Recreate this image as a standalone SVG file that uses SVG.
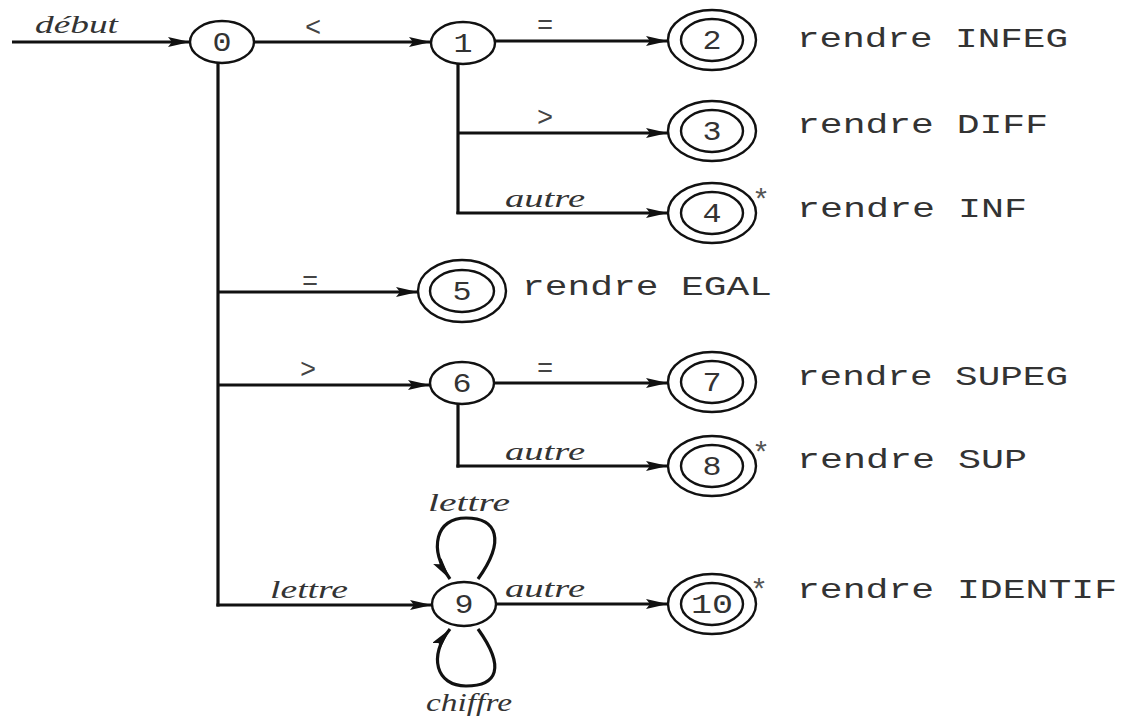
<svg xmlns="http://www.w3.org/2000/svg" width="1123" height="717" viewBox="0 0 1123 717">
<defs>
<marker id="arr" markerUnits="userSpaceOnUse" markerWidth="24" markerHeight="12" refX="22" refY="5" orient="auto">
<path d="M0,0 L22,5 L0,10 L4,5 z" fill="#111"/>
</marker>
<style>
.e{fill:none;stroke:#111;stroke-width:3.2}
.a{fill:none;stroke:#111;stroke-width:3.2;marker-end:url(#arr)}
.n{fill:#fff;stroke:#111;stroke-width:2.4}
.d{font-family:"Liberation Mono","Courier New",monospace;font-size:27px;fill:#333;text-anchor:middle}
.r{font-family:"Liberation Mono","Courier New",monospace;font-size:27px;fill:#333}
.i{font-family:"Liberation Serif","Times New Roman",serif;font-style:italic;font-size:25px;fill:#333}
.s{font-family:"Liberation Mono",monospace;font-size:30px;fill:#555}
.m{font-family:"Liberation Mono",monospace;font-size:27px;fill:#444;text-anchor:middle}
</style>
</defs>
<g id="connectors">
<path class="a" d="M12,42 H190"/>
<path class="a" d="M254,42 H431"/>
<path class="a" d="M495,41 H668"/>
<path class="e" d="M458,64 V214"/>
<path class="a" d="M458,133 H668"/>
<path class="a" d="M456.4,213 H668"/>
<path class="e" d="M218,63 V606.6"/>
<path class="a" d="M218,292 H418"/>
<path class="a" d="M218,385 H430"/>
<path class="a" d="M216.4,605 H432"/>
<path class="a" d="M494,383 H668"/>
<path class="e" d="M458,404 V467.6"/>
<path class="a" d="M456.4,466 H668"/>
<path class="a" d="M496,604 H668"/>
<path class="a" d="M478,579 C506,540 497,518 466,518 C436,518 428,548 450,579"/>
<path class="a" d="M478,629 C506,668 497,686 466,686 C436,686 428,656 450,629"/>
<text class="i" x="35" y="33" textLength="83" lengthAdjust="spacingAndGlyphs">début</text>
<text class="m" x="313" y="36">&lt;</text>
<text class="m" x="545" y="34">=</text>
<text class="m" x="545" y="126">&gt;</text>
<text class="i" x="505" y="207" textLength="80" lengthAdjust="spacingAndGlyphs">autre</text>
<text class="m" x="310" y="290">=</text>
<text class="m" x="308" y="378">&gt;</text>
<text class="m" x="545" y="377">=</text>
<text class="i" x="505" y="460" textLength="80" lengthAdjust="spacingAndGlyphs">autre</text>
<text class="i" x="270" y="598" textLength="78" lengthAdjust="spacingAndGlyphs">lettre</text>
<text class="i" x="505" y="597" textLength="80" lengthAdjust="spacingAndGlyphs">autre</text>
<text class="i" x="428" y="511" textLength="82" lengthAdjust="spacingAndGlyphs">lettre</text>
<text class="i" x="426" y="711" textLength="86" lengthAdjust="spacingAndGlyphs">chiffre</text>
</g>
<g id="n0"><ellipse class="n" cx="222" cy="42" rx="32" ry="21"/><text class="d" x="222" y="51" textLength="19" lengthAdjust="spacingAndGlyphs">0</text></g>
<g id="n1"><ellipse class="n" cx="463" cy="43" rx="32" ry="21"/><text class="d" x="463" y="52" textLength="19" lengthAdjust="spacingAndGlyphs">1</text></g>
<g id="n2"><ellipse class="n" cx="712" cy="40" rx="44" ry="30"/><ellipse class="n" cx="712" cy="40" rx="31" ry="21"/><text class="d" x="712" y="49" textLength="19" lengthAdjust="spacingAndGlyphs">2</text>
<text class="r" x="797" y="47" textLength="271" lengthAdjust="spacingAndGlyphs">rendre INFEG</text></g>
<g id="n3"><ellipse class="n" cx="712" cy="131" rx="44" ry="30"/><ellipse class="n" cx="712" cy="131" rx="31" ry="21"/><text class="d" x="712" y="140" textLength="19" lengthAdjust="spacingAndGlyphs">3</text>
<text class="r" x="797" y="133" textLength="251" lengthAdjust="spacingAndGlyphs">rendre DIFF</text></g>
<g id="n4"><ellipse class="n" cx="712" cy="213" rx="44" ry="30"/><ellipse class="n" cx="712" cy="213" rx="31" ry="21"/><text class="d" x="712" y="222" textLength="19" lengthAdjust="spacingAndGlyphs">4</text>
<text class="s" x="752" y="210">*</text>
<text class="r" x="797" y="217" textLength="230" lengthAdjust="spacingAndGlyphs">rendre INF</text></g>
<g id="n5"><ellipse class="n" cx="462" cy="291" rx="44" ry="31"/><ellipse class="n" cx="462" cy="291" rx="32" ry="21"/><text class="d" x="462" y="300" textLength="19" lengthAdjust="spacingAndGlyphs">5</text>
<text class="r" x="522" y="295" textLength="250" lengthAdjust="spacingAndGlyphs">rendre EGAL</text></g>
<g id="n6"><ellipse class="n" cx="462" cy="383" rx="32" ry="21"/><text class="d" x="462" y="392" textLength="19" lengthAdjust="spacingAndGlyphs">6</text></g>
<g id="n7"><ellipse class="n" cx="712" cy="382" rx="44" ry="30"/><ellipse class="n" cx="712" cy="382" rx="31" ry="21"/><text class="d" x="712" y="391" textLength="19" lengthAdjust="spacingAndGlyphs">7</text>
<text class="r" x="797" y="385" textLength="271" lengthAdjust="spacingAndGlyphs">rendre SUPEG</text></g>
<g id="n8"><ellipse class="n" cx="712" cy="466" rx="44" ry="30"/><ellipse class="n" cx="712" cy="466" rx="31" ry="21"/><text class="d" x="712" y="475" textLength="19" lengthAdjust="spacingAndGlyphs">8</text>
<text class="s" x="752" y="463">*</text>
<text class="r" x="797" y="468" textLength="230" lengthAdjust="spacingAndGlyphs">rendre SUP</text></g>
<g id="n9"><ellipse class="n" cx="464" cy="604" rx="32" ry="22"/><text class="d" x="464" y="613" textLength="19" lengthAdjust="spacingAndGlyphs">9</text></g>
<g id="n10"><ellipse class="n" cx="712" cy="604" rx="44" ry="30"/><ellipse class="n" cx="712" cy="604" rx="31" ry="21"/><text class="d" x="712" y="613" textLength="42" lengthAdjust="spacingAndGlyphs">10</text>
<text class="s" x="750" y="600">*</text>
<text class="r" x="797" y="598" textLength="320" lengthAdjust="spacingAndGlyphs">rendre IDENTIF</text></g>
</svg>
